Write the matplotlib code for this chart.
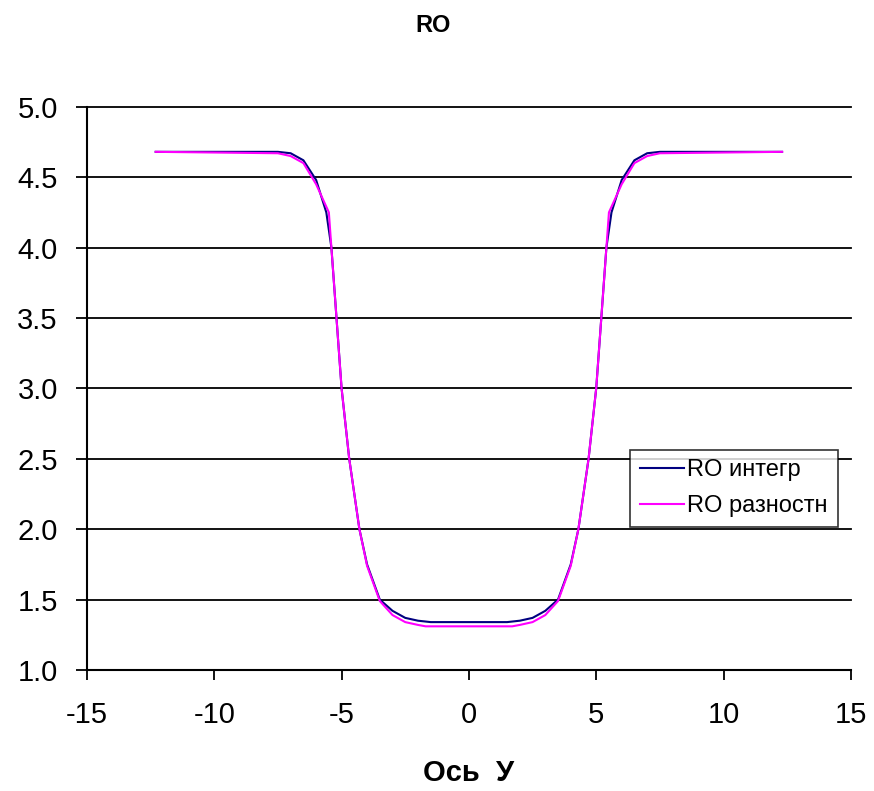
import matplotlib
matplotlib.use("Agg")
import matplotlib.pyplot as plt

plt.rcParams["font.family"] = ["Liberation Sans", "DejaVu Sans"]
plt.rcParams["axes.unicode_minus"] = False

# RO интегр (readings from the picture)
x_int = [-12.3, -7.5, -7.0, -6.5, -6.0, -5.6, -5.4, -5.2, -5.0, -4.7, -4.3, -4.0,
         -3.5, -3.0, -2.5, -2.0, -1.5, 1.5, 2.0, 2.5, 3.0, 3.5, 4.0, 4.3, 4.7,
         5.0, 5.2, 5.4, 5.6, 6.0, 6.5, 7.0, 7.5, 12.3]
y_int = [4.68, 4.68, 4.67, 4.62, 4.48, 4.25, 4.0, 3.5, 3.0, 2.5, 2.0, 1.75,
         1.5, 1.42, 1.37, 1.35, 1.34, 1.34, 1.35, 1.37, 1.42, 1.5, 1.75, 2.0, 2.5,
         3.0, 3.5, 4.0, 4.25, 4.48, 4.62, 4.67, 4.68, 4.68]

# RO разностн
x_diff = [-12.3, -7.5, -7.0, -6.5, -6.0, -5.5, -5.4, -5.2, -5.0, -4.7, -4.3, -4.0,
          -3.5, -3.0, -2.5, -2.0, -1.7, 1.7, 2.0, 2.5, 3.0, 3.5, 4.0, 4.3, 4.7,
          5.0, 5.2, 5.4, 5.5, 6.0, 6.5, 7.0, 7.5, 12.3]
y_diff = [4.68, 4.67, 4.65, 4.60, 4.45, 4.25, 4.0, 3.5, 3.0, 2.5, 2.0, 1.74,
          1.49, 1.39, 1.34, 1.32, 1.31, 1.31, 1.32, 1.34, 1.39, 1.49, 1.74, 2.0, 2.5,
          3.0, 3.5, 4.0, 4.25, 4.45, 4.60, 4.65, 4.67, 4.68]

x_ticks = [-15, -10, -5, 0, 5, 10, 15]
y_ticks = [1.0, 1.5, 2.0, 2.5, 3.0, 3.5, 4.0, 4.5, 5.0]

fig = plt.figure(figsize=(8.74, 7.91), dpi=100)
ax = fig.add_axes([0.0995, 0.153, 0.874, 0.712])

for y in y_ticks[1:]:
    ax.axhline(y, color="black", lw=1.3, zorder=1, clip_on=False)

ax.plot(x_int, y_int, color="#000080", lw=1.5, label="RO интегр", zorder=3)
ax.plot(x_diff, y_diff, color="#FF00FF", lw=1.5, label="RO разностн", zorder=3)

ax.set_xlim(-15, 15)
ax.set_ylim(1.0, 5.0)
ax.set_xticks(x_ticks)
ax.set_yticks(y_ticks)
ax.set_yticklabels([f"{v:.1f}" for v in y_ticks])
ax.tick_params(axis="both", labelsize=21, width=1.3, colors="black")
ax.tick_params(axis="y", direction="out", length=8, pad=13)
ax.tick_params(axis="x", direction="out", length=7, pad=15)
for side in ("top", "right"):
    ax.spines[side].set_visible(False)
for side in ("left", "bottom"):
    ax.spines[side].set_linewidth(1.5)

ax.set_xlabel("Ось  У", fontsize=21, fontweight="bold", labelpad=22)
fig.text(0.495, 0.968, "RO", ha="center", va="center", fontsize=17, fontweight="bold")

leg = ax.legend(loc="upper left", bbox_to_anchor=(0.711, 0.391, 0.272, 0.0),
                mode="expand", fontsize=17, frameon=True, fancybox=False,
                edgecolor="black", handlelength=1.9, handletextpad=0.1,
                borderpad=0.4, labelspacing=0.6, borderaxespad=0)
leg.get_frame().set_linewidth(1.2)

fig.savefig("out.png", dpi=100)
